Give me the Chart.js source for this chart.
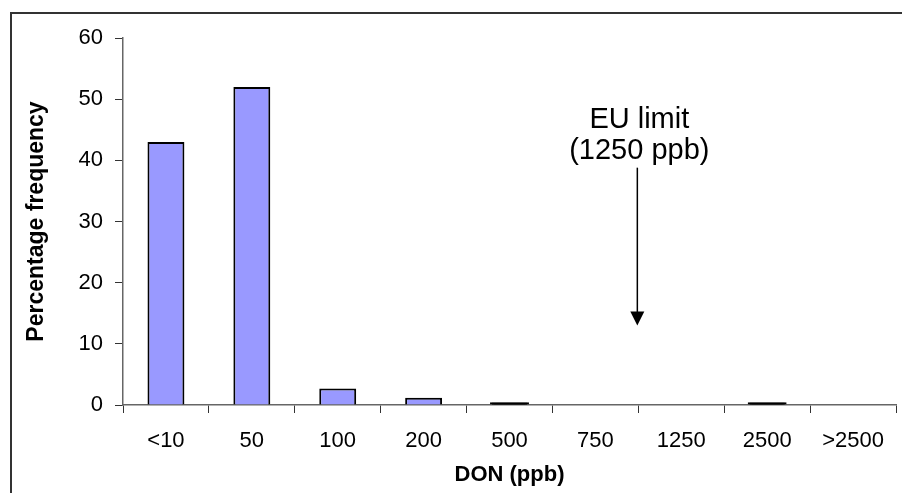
<!DOCTYPE html>
<html>
<head>
<meta charset="utf-8">
<script src="https://cdn.jsdelivr.net/npm/chart.js@4/dist/chart.umd.min.js"></script>
<style>
  html, body { margin: 0; padding: 0; background: #fff; }
  #wrap { width: 902px; height: 493px; position: relative; }
</style>
</head>
<body>
<div id="wrap"><canvas id="c" width="902" height="493"></canvas></div>
<script>
// DON concentration classes and share of samples in each class (%)
const categories = ['<10', '50', '100', '200', '500', '750', '1250', '2500', '>2500'];
const frequency = [43, 52, 2.7, 1.2, 0.3, 0, 0, 0.3, 0];
const yTicks = [0, 10, 20, 30, 40, 50, 60];

// Legal limit marker, placed between the 750 and 1250 classes
const limitLines = ['EU limit', '(1250 ppb)'];
const limitArrow = { from: 38.8, to: 13 };   // arrow start / tip, in % units
const limitTextY = [46.6, 41.55];           // text line centres, in % units

const FONT = "'Liberation Sans', Arial, sans-serif";
const BAR_FILL = '#9999FF';
const BAR_EDGE = '#000';

// true when a bar is so short that its outline covers it
function isSliver(c) {
  const s = c.chart.scales.y;
  if (!s || c.raw == null || !c.raw) return false;
  return s.getPixelForValue(0) - s.getPixelForValue(c.raw) < 4;
}

const framePlugin = {
  id: 'frame',
  beforeDraw(chart) {
    const ctx = chart.ctx;
    ctx.save();
    ctx.strokeStyle = '#333';
    ctx.lineWidth = 2;
    ctx.beginPath();
    ctx.moveTo(11, chart.height + 2);
    ctx.lineTo(11, 13);
    ctx.lineTo(chart.width + 2, 13);
    ctx.stroke();
    ctx.restore();
  }
};

const limitPlugin = {
  id: 'limitMarker',
  afterDraw(chart) {
    const x = chart.scales.x, y = chart.scales.y, ctx = chart.ctx;
    const px = (x.getPixelForValue(5) + x.getPixelForValue(6)) / 2 - 1;
    const y0 = y.getPixelForValue(limitArrow.from);
    const y1 = y.getPixelForValue(limitArrow.to);
    ctx.save();
    ctx.strokeStyle = '#000';
    ctx.fillStyle = '#000';
    ctx.lineWidth = 1.5;
    ctx.beginPath();
    ctx.moveTo(px, y0);
    ctx.lineTo(px, y1 - 12);
    ctx.stroke();
    ctx.beginPath();
    ctx.moveTo(px - 7, y1 - 14);
    ctx.lineTo(px + 7, y1 - 14);
    ctx.lineTo(px, y1);
    ctx.closePath();
    ctx.fill();
    ctx.font = '29px ' + FONT;
    ctx.textAlign = 'center';
    ctx.textBaseline = 'middle';
    limitLines.forEach((t, i) => ctx.fillText(t, px + 2, y.getPixelForValue(limitTextY[i])));
    ctx.restore();
  }
};

new Chart(document.getElementById('c'), {
  type: 'bar',
  data: {
    labels: categories,
    datasets: [{
      data: frequency,
      backgroundColor: (c) => isSliver(c) ? BAR_EDGE : BAR_FILL,
      inflateAmount: (c) => isSliver(c) ? 1 : 0,
      borderColor: BAR_EDGE,
      borderWidth: 2,
      borderSkipped: 'bottom',
      categoryPercentage: 1,
      barPercentage: 0.43
    }]
  },
  options: {
    responsive: false,
    animation: false,
    events: [],
    layout: { padding: { left: 0, top: 38, right: 6, bottom: 0 } },
    plugins: { legend: { display: false }, tooltip: { enabled: false } },
    scales: {
      x: {
        grid: { display: true, drawOnChartArea: false, offset: true, color: '#333', tickLength: 8, lineWidth: 1 },
        border: { color: '#666', width: 1.5 },
        ticks: { color: '#000', font: { family: FONT, size: 22 }, padding: 15, maxRotation: 0, autoSkip: false },
        title: { display: true, text: 'DON (ppb)', color: '#000', font: { family: FONT, size: 22, weight: 'bold' }, padding: { top: 0, bottom: 5 } },
        afterFit(s) { s.height = 88; }
      },
      y: {
        min: 0, max: 60,
        afterBuildTicks(s) { s.ticks = yTicks.map(v => ({ value: v })); },
        grid: { display: true, drawOnChartArea: false, color: '#333', tickLength: 8, lineWidth: 1 },
        border: { color: '#666', width: 1.5 },
        ticks: { color: '#000', font: { family: FONT, size: 22 }, padding: 12 },
        title: { display: true, text: 'Percentage frequency', color: '#000', font: { family: FONT, size: 23, weight: 'bold' }, padding: { top: 23, bottom: 0 } },
        afterFit(s) { s.width = 123; }
      }
    }
  },
  plugins: [framePlugin, limitPlugin]
});
</script>
</body>
</html>
